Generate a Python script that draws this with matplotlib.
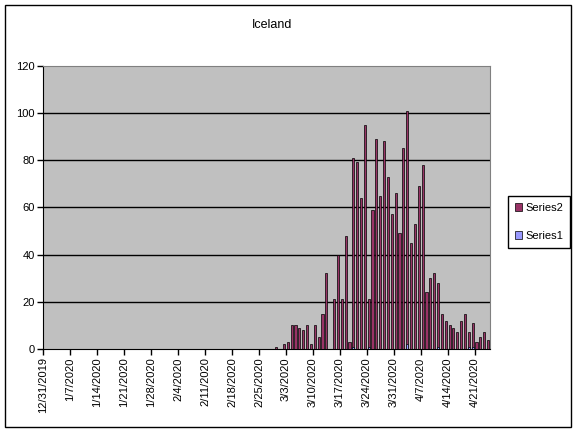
import numpy as np
import pandas as pd
import matplotlib
matplotlib.use("Agg")
import matplotlib.pyplot as plt
from matplotlib.patches import Rectangle

plt.rcParams['font.family'] = ['Liberation Sans', 'DejaVu Sans']

# categories: one per day from 12/31/2019
days = pd.date_range("2019-12-31", periods=116, freq="D")
day_labels = [f"{d.month}/{d.day}/{d.year}" for d in days]

# Series2: daily values (maroon)
series2 = [0] * 60 + [
    1, 0, 2, 3, 10, 10, 9, 8, 10, 2, 10, 5, 15, 32,
    0, 21, 40, 21, 48, 3, 81, 79, 64, 95, 21, 59, 89, 65, 88, 73,
    57, 66, 49, 85, 101, 45, 53, 69, 78,
    24, 30, 32, 28, 15, 12, 10, 9, 7, 12, 15, 7, 11, 3, 5, 7, 4,
]
# Series1: small values (blue)
series1 = [0] * 116
for k, v in {80: 1, 84: 1, 94: 2, 102: 1, 110: 1, 111: 1}.items():
    series1[k] = v

yticks = [0, 20, 40, 60, 80, 100, 120]
tick_every = 7

W, H = 577, 433
fig = plt.figure(figsize=(W / 100, H / 100), dpi=100)
fig.patches.append(Rectangle((5 / W, 6 / H), 566 / W, 422 / H, transform=fig.transFigure,
                             fill=False, edgecolor='black', linewidth=1))

ax = fig.add_axes([43.3 / W, (H - 349) / H, (490 - 43.3) / W, (349 - 65.7) / H])
ax.set_facecolor('#C0C0C0')

x = np.arange(len(days))
bw = 0.55
ax.bar(x + 0.5, series2, width=bw, color='#993366', edgecolor='black',
       linewidth=0.5, label='Series2', zorder=3)
ax.bar(x + 0.5, series1, width=bw, color='#9999FF', edgecolor='black',
       linewidth=0.5, label='Series1', zorder=4)

for yv in yticks[1:-1]:
    ax.axhline(yv, color='black', linewidth=1, zorder=1)

ax.set_xlim(0, len(days))
ax.set_ylim(0, 120)
ax.set_yticks(yticks)
ax.set_xticks(x[::tick_every])
ax.set_xticklabels(day_labels[::tick_every], rotation=90, fontsize=8)
ax.tick_params(axis='y', labelsize=8, direction='out', length=4, width=1, pad=2)
ax.tick_params(axis='x', direction='out', length=4, width=1, pad=2)

for s in ['top', 'right']:
    ax.spines[s].set_color('#808080')
for s in ['left', 'bottom']:
    ax.spines[s].set_color('black')

fig.text(272 / W, 1 - 25 / H, 'Iceland', ha='center', va='center', fontsize=9)

h, l = ax.get_legend_handles_labels()
leg = fig.legend(h, l, loc='center left', bbox_to_anchor=(508 / W, 1 - 222 / H),
                 fontsize=8, frameon=True, fancybox=False, edgecolor='black', framealpha=1,
                 handlelength=0.7, handleheight=0.7, handletextpad=0.3, borderpad=0.6,
                 labelspacing=1.6, borderaxespad=0)
leg.get_frame().set_linewidth(1)

fig.savefig('out.png', dpi=100)
